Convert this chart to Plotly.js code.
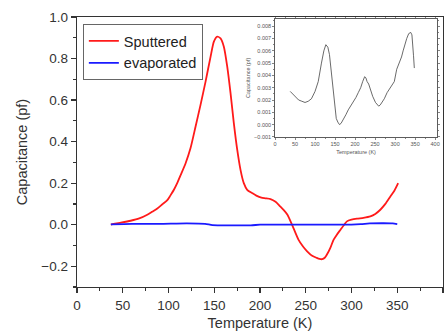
<!DOCTYPE html>
<html><head><meta charset="utf-8">
<script src="https://cdn.plot.ly/plotly-3.0.1.min.js"></script>
<style>html,body{margin:0;padding:0;background:#fff}#c{width:448px;height:334px}</style>
</head><body><div id="c"></div>
<script>
// Main chart: Sputtered
const sputT = [37,40,48,58.6,68,76.8,82,87.8,93,98.7,102,105.9,109.5,113.2,118.7,124.1,129.6,135,140.5,146,149.6,153.3,156.9,160.5,164.2,167.8,171.4,175.1,178.7,182.3,186,191.5,196,201.5,206,211.5,217,222,226,230,235,242,247,251.5,257,262,265,268,271,273,277,280.5,284,288,292,295,300,306,313,320.6,326,331.5,337,342.5,347,351];
const sputC = [0.0,0.004,0.01,0.019,0.03,0.048,0.062,0.078,0.097,0.118,0.14,0.168,0.2,0.238,0.296,0.369,0.473,0.577,0.689,0.809,0.881,0.905,0.897,0.857,0.761,0.633,0.489,0.361,0.264,0.2,0.168,0.152,0.14,0.13,0.127,0.123,0.11,0.088,0.07,0.048,0.0,-0.072,-0.105,-0.128,-0.15,-0.16,-0.165,-0.166,-0.158,-0.145,-0.11,-0.072,-0.048,-0.024,0.0,0.016,0.024,0.029,0.033,0.04,0.052,0.072,0.1,0.136,0.165,0.2];
// Main chart: evaporated
const evapT = [37,60,90,120,140,148,170,190,200,215,230,260,290,310,320,335,345,350];
const evapC = [0.002,0.004,0.004,0.006,0.004,-0.002,-0.003,-0.003,0.0,0.0,0.0,0.0,0.0,0.003,0.006,0.007,0.006,0.003];
// Inset (evaporated, magnified)
const insT = [38,47,53,59,67,75,83,91,100,108,116,122,127,132,136,140,144,147,150,153,157,161,165,169,173,177,183,189,196,202,208,214,219,224,227,230,234,238,244,251,255,259,263,267,273,280,286,292,298,304,310,316,320,324,329,334,339,342,344,346,348];
const insC = [0.0027,0.0024,0.0022,0.002,0.0019,0.0018,0.0019,0.0021,0.0027,0.0035,0.005,0.006,0.0065,0.0063,0.0057,0.0045,0.0032,0.0021,0.0012,0.0005,0.0002,0.0,0.0001,0.0003,0.0005,0.0008,0.0012,0.0015,0.0019,0.0022,0.0026,0.003,0.0035,0.0039,0.0038,0.0035,0.0033,0.0029,0.0023,0.0018,0.0016,0.0015,0.0016,0.0018,0.0021,0.0026,0.0029,0.0031,0.0035,0.0045,0.005,0.0055,0.006,0.0065,0.007,0.0074,0.0075,0.0073,0.0067,0.0056,0.0046];
const xTicks = [0,50,100,150,200,250,300,350,400];

const F = 'Liberation Sans, Arial, sans-serif';
const traces = [
  {x: sputT, y: sputC, mode:'lines', name:'Sputtered', line:{color:'#ff1a1a', width:1.8, shape:'spline', smoothing:0.6}, xaxis:'x', yaxis:'y'},
  {x: evapT, y: evapC, mode:'lines', name:'evaporated', line:{color:'#1a1aff', width:1.8, shape:'spline', smoothing:0.6}, xaxis:'x', yaxis:'y'},
  {x: insT, y: insC, mode:'lines', showlegend:false, line:{color:'#444', width:0.8}, xaxis:'x2', yaxis:'y2'}
];
const axBase = {showline:true, linecolor:'#333', linewidth:1.3, showgrid:false, zeroline:false, ticks:'outside', tickcolor:'#333', tickwidth:1.2, ticklen:5};
const layout = {
  width:448, height:334, margin:{l:77, r:5, t:17, b:47},
  paper_bgcolor:'#fff', plot_bgcolor:'#fff',
  font:{family:F, color:'#333', size:14},
  showlegend:true,
  legend:{x:0.016, y:0.974, xanchor:'left', yanchor:'top', bgcolor:'#fff', bordercolor:'#666', borderwidth:1, font:{size:14.5, family:F, color:'#222'}, tracegroupgap:0, itemwidth:30},
  xaxis: Object.assign({}, axBase, {domain:[0,1], range:[0,400], tickvals:xTicks, mirror:true, tickfont:{size:13.5}, minor:{dtick:25, ticks:'outside', ticklen:3, tickcolor:'#333'}, title:{text:'Temperature (K)', font:{size:14.5}, standoff:6}}),
  yaxis: Object.assign({}, axBase, {domain:[0,1], range:[-0.3,1.0], dtick:0.2, tickformat:'.1f', mirror:true, tickfont:{size:13.5}, minor:{dtick:0.1, ticks:'outside', ticklen:3, tickcolor:'#333'}, title:{text:'Capacitance (pf)', font:{size:14.5}, standoff:10}}),
  xaxis2: Object.assign({}, axBase, {anchor:'y2', domain:[0.541,0.984], range:[0,405], dtick:50, mirror:'allticks', linewidth:0.8, tickwidth:0.6, ticklen:2, tickfont:{size:5.5, color:'#555'}, minor:{dtick:25, ticks:'outside', ticklen:1.5, tickcolor:'#333'}, title:{text:'Temperature (K)', font:{size:5.5, color:'#555'}, standoff:3}}),
  yaxis2: Object.assign({}, axBase, {anchor:'x2', domain:[0.556,0.993], range:[-0.001,0.0086], dtick:0.001, tickformat:'.3f', mirror:'allticks', linewidth:0.8, tickwidth:0.6, ticklen:2, tickfont:{size:5.5, color:'#555'}, minor:{dtick:0.0005, ticks:'outside', ticklen:1.5, tickcolor:'#333'}, title:{text:'Capacitance (pf)', font:{size:5.5, color:'#555'}, standoff:3}})
};
Plotly.newPlot('c', traces, layout, {displayModeBar:false, staticPlot:true});
</script></body></html>
